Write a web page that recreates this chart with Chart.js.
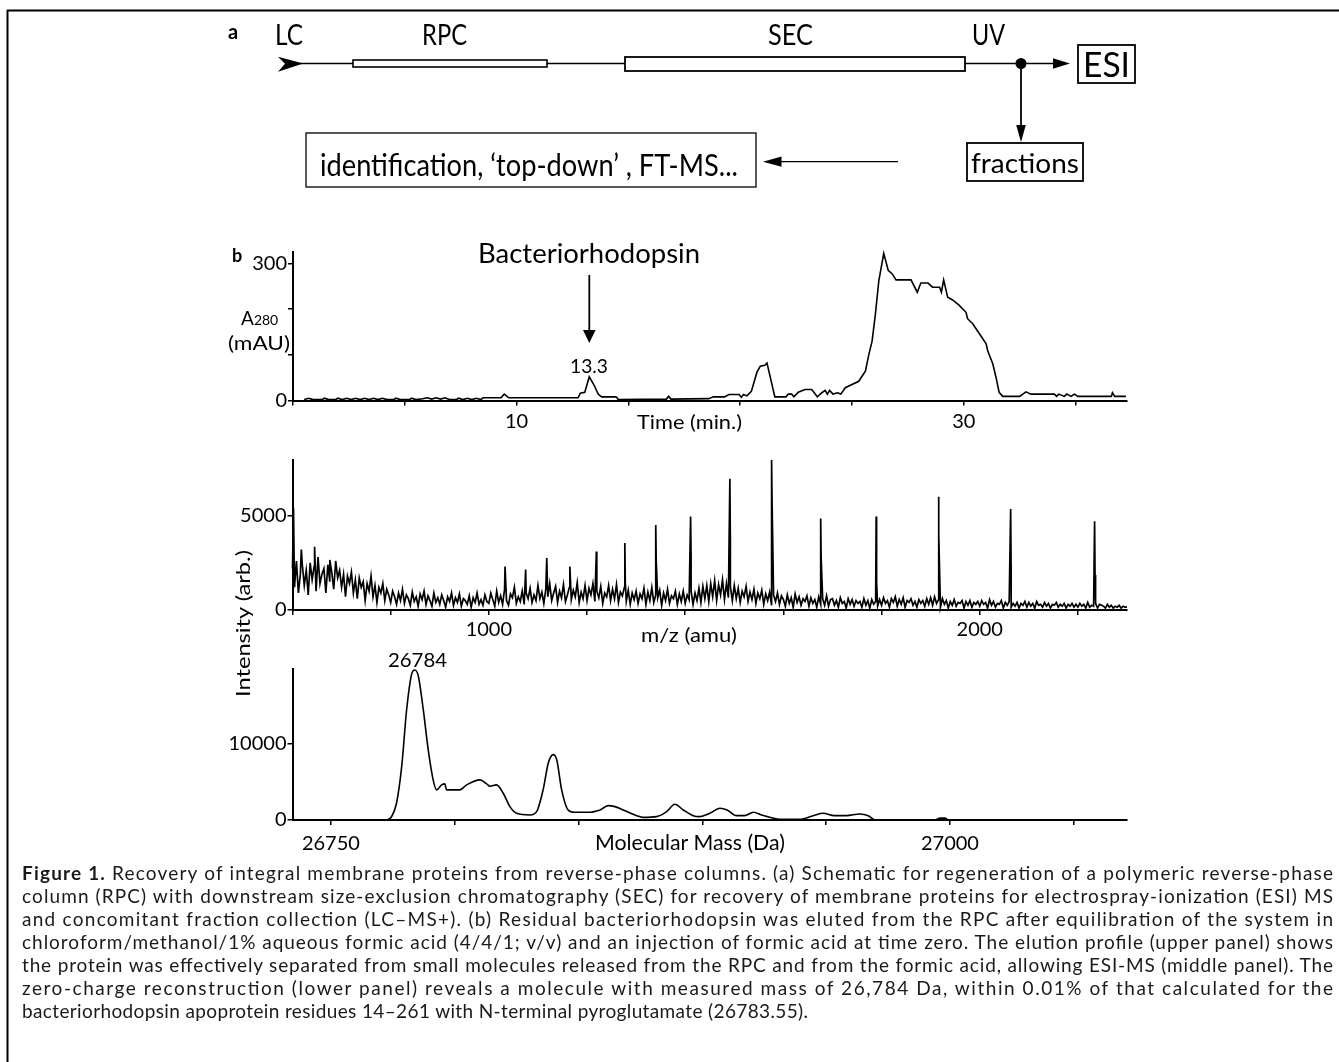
<!DOCTYPE html>
<html><head><meta charset="utf-8">
<script src="https://cdn.jsdelivr.net/npm/chart.js@4.4.1/dist/chart.umd.min.js"></script>
<style>
html,body{margin:0;padding:0;background:#fff;}
#page{position:relative;width:1339px;height:1062px;overflow:hidden;background:#fff;}
canvas{position:absolute;left:0;}
#overlay{position:absolute;left:0;top:0;z-index:5;font-family:Lato,sans-serif;}
</style></head><body>
<div id="page">
<canvas id="c1" width="1339" height="215"></canvas>
<canvas id="c2" width="1339" height="200"></canvas>
<canvas id="c3" width="1339" height="210"></canvas>
<svg id="overlay" width="1339" height="1062" xmlns="http://www.w3.org/2000/svg">
  <!-- frame -->
  <line x1="7" y1="10.5" x2="1339" y2="10.5" stroke="#000" stroke-width="2"/>
  <line x1="7.5" y1="10" x2="7.5" y2="1062" stroke="#000" stroke-width="2"/>
  <!-- schematic (a) -->
  <text x="228" y="39" font-size="20" font-weight="bold">a</text>
  <text x="275" y="45" font-size="28" textLength="28" lengthAdjust="spacingAndGlyphs">LC</text>
  <text x="422" y="45" font-size="28" textLength="45" lengthAdjust="spacingAndGlyphs">RPC</text>
  <text x="768" y="45" font-size="28" textLength="45" lengthAdjust="spacingAndGlyphs">SEC</text>
  <text x="972" y="45" font-size="28" textLength="33" lengthAdjust="spacingAndGlyphs">UV</text>
  <polygon points="278,56.7 303.3,63.5 278,71.7 285,63.8" fill="#000"/>
  <line x1="300" y1="63.5" x2="353" y2="63.5" stroke="#000" stroke-width="1.5"/>
  <rect x="353" y="60" width="194" height="7" fill="none" stroke="#000" stroke-width="1.6"/>
  <line x1="547" y1="63.5" x2="625" y2="63.5" stroke="#000" stroke-width="1.5"/>
  <rect x="625" y="57" width="340" height="14" fill="none" stroke="#000" stroke-width="1.8"/>
  <line x1="965" y1="63.5" x2="1058" y2="63.5" stroke="#000" stroke-width="1.5"/>
  <polygon points="1053,58.3 1070,63.5 1053,68.7" fill="#000"/>
  <circle cx="1021" cy="63.5" r="5.5" fill="#000"/>
  <line x1="1021" y1="63" x2="1021" y2="128" stroke="#000" stroke-width="1.8"/>
  <polygon points="1016.2,125 1021,142 1025.8,125" fill="#000"/>
  <rect x="1078" y="45" width="57" height="38" fill="none" stroke="#000" stroke-width="1.8"/>
  <text x="1083" y="77" font-size="35" textLength="47" lengthAdjust="spacingAndGlyphs">ESI</text>
  <rect x="967" y="143" width="116" height="38" fill="none" stroke="#000" stroke-width="1.8"/>
  <text x="971" y="173" font-size="27" textLength="108" lengthAdjust="spacingAndGlyphs">fractions</text>
  <line x1="898" y1="161.7" x2="776" y2="161.7" stroke="#000" stroke-width="1.3"/>
  <polygon points="781.5,156.6 763,161.7 781.5,166.8" fill="#000"/>
  <rect x="306" y="133" width="450" height="54" fill="none" stroke="#000" stroke-width="1.3"/>
  <text x="320" y="176" font-size="30" textLength="418" lengthAdjust="spacingAndGlyphs">identification, ‘top-down’ , FT-MS...</text>
  <!-- panel b, top -->
  <text x="232" y="262" font-size="18" font-weight="bold">b</text>
  <text x="478" y="263" font-size="27" textLength="222" lengthAdjust="spacingAndGlyphs">Bacteriorhodopsin</text>
  <line x1="589.3" y1="275" x2="589.3" y2="332" stroke="#000" stroke-width="1.8"/>
  <polygon points="583,330 589.3,343 595.6,330" fill="#000"/>
  <text x="570" y="373" font-size="20" textLength="38" lengthAdjust="spacingAndGlyphs">13.3</text>
  <text x="241" y="325"><tspan font-size="19">A</tspan><tspan font-size="14">280</tspan></text>
  <text x="228" y="350" font-size="20" textLength="62" lengthAdjust="spacingAndGlyphs">(mAU)</text>
  <text x="637" y="429" font-size="20" textLength="105" lengthAdjust="spacingAndGlyphs">Time (min.)</text>
  <!-- middle / bottom -->
  <text x="641" y="642" font-size="20" textLength="96" lengthAdjust="spacingAndGlyphs">m/z (amu)</text>
  <text transform="translate(250,697) rotate(-90)" x="0" y="0" font-size="20" textLength="147" lengthAdjust="spacingAndGlyphs">Intensity (arb.)</text>
  <text x="388" y="667" font-size="20" textLength="59" lengthAdjust="spacingAndGlyphs">26784</text>
  <text x="595" y="850" font-size="21" textLength="190" lengthAdjust="spacingAndGlyphs">Molecular Mass (Da)</text>
  <!-- caption -->
  <g font-size="19" fill="#1a1a1a">
    <text x="22" y="880" textLength="1311" lengthAdjust="spacing"><tspan font-weight="bold">Figure 1.</tspan> Recovery of integral membrane proteins from reverse-phase columns. (a) Schematic for regeneration of a polymeric reverse-phase</text>
    <text x="22" y="903" textLength="1311" lengthAdjust="spacing">column (RPC) with downstream size-exclusion chromatography (SEC) for recovery of membrane proteins for electrospray-ionization (ESI) MS</text>
    <text x="22" y="926" textLength="1311" lengthAdjust="spacing">and concomitant fraction collection (LC–MS+). (b) Residual bacteriorhodopsin was eluted from the RPC after equilibration of the system in</text>
    <text x="22" y="949" textLength="1311" lengthAdjust="spacing">chloroform/methanol/1% aqueous formic acid (4/4/1; v/v) and an injection of formic acid at time zero. The elution profile (upper panel) shows</text>
    <text x="22" y="972" textLength="1311" lengthAdjust="spacing">the protein was effectively separated from small molecules released from the RPC and from the formic acid, allowing ESI-MS (middle panel). The</text>
    <text x="22" y="995" textLength="1311" lengthAdjust="spacing">zero-charge reconstruction (lower panel) reveals a molecule with measured mass of 26,784 Da, within 0.01% of that calculated for the</text>
    <text x="22" y="1018" textLength="786" lengthAdjust="spacing">bacteriorhodopsin apoprotein residues 14–261 with N-terminal pyroglutamate (26783.55).</text>
  </g>
</svg>
</div>
<script>
// ---------- Panel b, top: UV elution profile ----------
const elutionTime = [0.5,0.7,0.9,1.3,1.4,1.6,1.9,2.0,2.2,2.4,2.6,2.8,3.0,3.2,3.4,3.6,3.8,4.0,4.2,4.5,
  4.6,4.8,5.2,5.3,5.5,5.8,6.0,6.2,6.4,6.6,6.8,7.0,7.3,7.4,7.6,7.8,8.0,8.2,8.4,8.5,
  9.3,9.45,9.65,12.75,12.85,13.05,13.25,13.45,13.65,13.8,14.45,14.55,16.7,16.8,16.9,18.6,18.8,19.3,19.5,19.95,
  20.05,20.15,20.3,20.5,20.75,20.9,21.1,21.2,21.35,21.55,22.05,22.15,22.3,22.4,22.6,22.9,23.2,23.45,23.65,23.8,
  23.9,24.0,24.15,24.35,24.5,24.7,25.0,25.3,25.6,25.75,25.9,26.05,26.2,26.42,26.62,26.8,26.97,27.64,27.92,28.08,
  28.4,28.6,28.92,29.0,29.1,29.28,29.5,29.8,30.1,30.17,30.4,30.7,31.0,31.07,31.3,31.44,31.58,31.74,32.3,32.5,
  32.78,33.0,34.05,34.15,34.25,34.5,34.6,34.8,34.95,35.1,36.6,36.65,36.75,37.25];
const elutionA280 = [2,5,2,2,5,2,2,5,2,5,2,5,2,5,2,5,2,5,2,2,
  5,2,2,5,2,4,6,3,6,3,6,2,2,5,2,5,2,5,2,6,
  6,14,6,6,16,18,52,35,14,8,8,2,3,9,3,4,8,8,13,13,
  7,13,10,20,62,75,77,82,50,8,8,14,14,8,18,24,24,8,17,22,
  14,22,14,17,14,28,35,42,64,100,130,190,262,322,285,277,264,264,237,257,
  257,248,248,237,264,226,220,208,193,179,168,146,124,109,80,51,18,9,9,9,
  19,14,14,9,14,9,14,9,14,9,9,17,9,9];
const timeTicks = [0, 5, 10, 15, 20, 25, 30, 35];
const timeTickLabels = [10, 30];
const a280Ticks = [0, 100, 200, 300];
const a280TickLabels = [0, 300];

// ---------- Panel b, middle: ESI-MS spectrum ----------
const msNoiseStart = 600, msNoiseStep = 4;   // m/z sampling of the noise trace
const msNoise = [
 2200,1200,2600,900,1900,2400,1300,2100,800,2500,1600,2300,1000,2800,1400,1900,2200,900,2400,1500,2000,1100,2600,1700,2100,
 1200,1900,700,1800,1400,2000,900,1600,600,1700,1200,1500,500,1400,1000,1800,700,1300,400,1200,900,1400,500,1100,800,
 400,1000,700,300,900,500,1100,350,800,600,250,950,450,700,200,850,550,1000,300,750,500,200,900,400,650,
 300,800,500,150,700,450,900,250,650,400,850,200,600,500,300,750,150,650,400,900,300,550,250,800,450,
 350,900,550,200,1000,400,750,300,1100,500,250,850,650,1200,350,700,450,1000,300,900,600,1150,400,800,500,
 1300,600,950,350,1100,700,1400,500,900,1250,400,1000,650,1350,450,800,1200,550,1050,700,1450,400,950,600,1300,
 500,1150,800,1400,450,1000,650,1250,350,900,700,1300,500,1100,600,1350,400,950,750,1200,450,1050,300,900,550,
 1000,350,850,600,1150,300,950,500,1200,400,800,650,1050,250,900,500,1100,350,750,600,1000,300,850,450,1000,
 350,800,550,1000,300,900,500,1150,400,1250,600,1300,450,1400,700,1550,500,1350,800,1600,550,1400,650,1250,500,
 1300,600,1150,400,1000,700,1250,450,950,550,1100,350,900,600,1050,300,850,500,950,250,800,450,900,300,750,
 550,200,800,350,650,150,850,400,700,250,600,450,750,200,650,350,550,150,700,300,600,250,750,200,550,
 600,250,500,150,650,350,450,100,600,300,550,200,500,350,450,150,600,250,500,100,550,300,450,200,550,
 250,650,350,500,150,600,400,700,200,550,300,650,150,500,400,600,250,450,150,550,350,500,200,600,300,
 650,250,700,350,550,150,600,300,500,100,450,250,550,200,400,350,500,100,450,250,500,150,400,300,450,
 200,500,300,400,100,550,250,450,150,350,300,500,100,400,250,450,150,350,200,400,100,350,250,450,150,
 400,200,350,100,450,250,300,150,400,200,350,100,300,250,400,150,300,200,350,100,300,200,350,150,300,
 150,350,200,300,100,400,150,250,200,350,100,300,250,200,100,300,150,250,100,200,150,250,100,200,150,
 150];
const msPeakMz       = [602, 618, 645, 676, 1033, 1075, 1118, 1165, 1219, 1277, 1340, 1411, 1491, 1576, 1676, 1789, 1916, 2063, 2234];
const msPeakInt      = [5400,3200,3350,2650,2300,2150,2750,2300,3100,3550,4500,4950,6950,7950,4850,4950,6000,5350,4700];
const msPeakShoulder = [0,   0,   0,   0,   0,   0,   0,   0,   1800,1500,2650,3000,3900,5800,2800,1500,4000,2300,1850];
const mzTicks = [600, 800, 1000, 1200, 1400, 1600, 1800, 2000, 2200];
const mzTickLabels = [1000, 2000];
const msIntTicks = [0, 5000];
const msIntTickLabels = [0, 5000];

// ---------- Panel b, bottom: zero-charge reconstruction ----------
const massDa = [26771,26772.5,26774.5,26776.5,26778.6,26780.6,26782.6,26783.9,26785.3,26787.3,
  26789.3,26791.3,26792.7,26794.7,26796,26796.7,26802.1,26804.8,26810.2,26812.9,
  26814.2,26816.9,26819.6,26822.3,26825,26830.4,26833.1,26835.7,26837.8,26839.8,
  26841.2,26843.2,26845.8,26848.5,26854.6,26857.3,26858.7,26862,26864.7,26868,
  26873.5,26876.1,26881.5,26885.6,26888.9,26892.3,26896.3,26899,26903,26907.1,
  26910,26913.8,26917,26920.6,26923.9,26928,26931.3,26939.4,26944.8,26948.8,
  26953.3,26958.2,26963.6,26967,26969.7,26994,26996,26998,26999.5,27071];
const massIntensity = [0,0,440,2200,7040,14530,19150,19720,18930,14530,
  9250,5280,3960,4620,4750,3960,3960,4620,5280,4750,
  4440,4620,3520,1760,880,660,1100,3960,7490,8590,
  7930,3960,1320,1010,1010,1190,1320,1890,1760,1320,
  570,350,440,1100,2070,1320,570,440,880,1540,
  1320,570,570,1010,660,300,90,90,570,880,
  570,570,790,570,0,0,250,250,0,0];
const massTicks = [26750, 26800, 26850, 26900, 26950, 27000, 27050];
const massTickLabels = [26750, 27000];
const massIntTicks = [0, 10000];
const massIntTickLabels = [0, 10000];

// ---------- helpers ----------
function axis(min, max, tickValues, labels, pad) {
  return {
    type: 'linear', min: min, max: max,
    afterBuildTicks: s => { s.ticks = tickValues.map(v => ({ value: v })); },
    border: { display: true, color: '#000', width: 2 },
    grid: { display: true, drawOnChartArea: false, drawTicks: true, tickLength: 5, color: '#000', lineWidth: 1.5 },
    ticks: {
      autoSkip: false, maxRotation: 0, minRotation: 0,
      padding: pad, color: '#000', font: { family: 'Lato', size: 20 },
      callback: function (v) { return labels.some(l => Math.abs(l - v) < 1e-6) ? String(v) : ''; }
    }
  };
}
function makeChart(id, top, height, area, datasets, xAxis, yAxis) {
  const cv = document.getElementById(id);
  cv.style.top = top + 'px';
  xAxis.afterFit = s => { s.height = top + height - area.bottom; };
  yAxis.afterFit = s => { s.width = area.left; };
  return new Chart(cv, {
    type: 'line',
    data: { datasets: datasets },
    options: {
      responsive: false, animation: false, events: [],
      layout: { padding: { left: 0, right: 1339 - area.right, top: area.top - top, bottom: 0 } },
      plugins: { legend: { display: false }, tooltip: { enabled: false } },
      scales: { x: xAxis, y: yAxis }
    }
  });
}

// top chart
makeChart('c1', 235, 215, { left: 293, right: 1127, top: 252, bottom: 400.5 },
  [{ data: elutionTime.map((t, i) => ({ x: t, y: elutionA280[i] })), borderColor: '#000', borderWidth: 1.6,
     pointRadius: 0, fill: false, tension: 0, clip: false }],
  axis(0, 37.3, timeTicks, timeTickLabels, 4),
  axis(0, 325, a280Ticks, a280TickLabels, 1));

// middle chart
const msPoints = msNoise.map((v, i) => ({ x: msNoiseStart + i * msNoiseStep, y: v }));
msPeakMz.forEach((mz, i) => {
  msPoints.push({ x: mz, y: msPeakInt[i] });
  if (msPeakShoulder[i] > 0) msPoints.push({ x: mz + 0.9, y: msPeakShoulder[i] });
});
msPoints.sort((a, b) => a.x - b.x);
makeChart('c2', 445, 200, { left: 292.5, right: 1127, top: 460, bottom: 610 },
  [{ data: msPoints, borderColor: '#000', borderWidth: 1.7, pointRadius: 0, fill: false, tension: 0, clip: false }],
  axis(600, 2300, mzTicks, mzTickLabels, 3),
  axis(0, 7950, msIntTicks, msIntTickLabels, 1));

// bottom chart
makeChart('c3', 655, 210, { left: 292.5, right: 1127, top: 669, bottom: 820 },
  [{ data: massDa.map((m, i) => ({ x: m, y: massIntensity[i] })), borderColor: '#000', borderWidth: 1.6,
     pointRadius: 0, fill: false, cubicInterpolationMode: 'monotone', clip: false }],
  axis(26734.5, 27071.5, massTicks, massTickLabels, 7),
  axis(0, 19850, massIntTicks, massIntTickLabels, 1));
</script>
</body></html>
